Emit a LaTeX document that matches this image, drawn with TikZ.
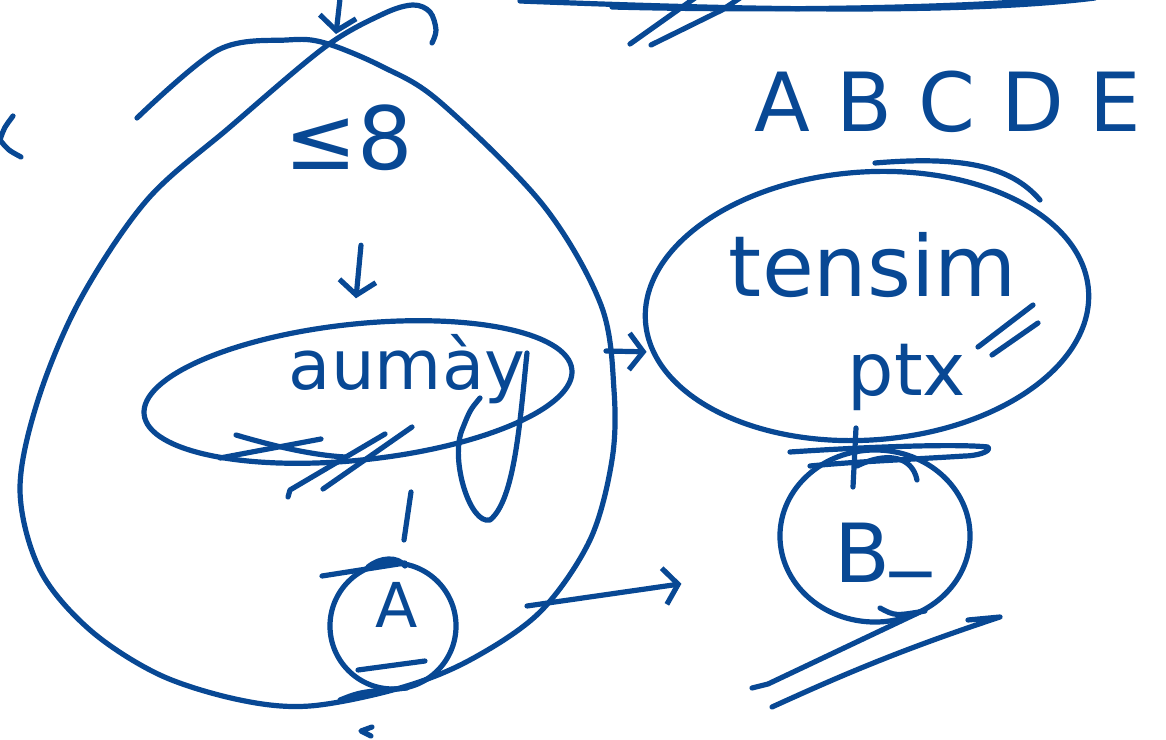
\documentclass[tikz,border=0pt]{standalone}
\usepackage{fontspec}
\setmainfont{DejaVu Sans}
\usepackage{xcolor}
\usepackage{tikz}
\usetikzlibrary{calc,arrows.meta,shapes.geometric}
\definecolor{tinta}{RGB}{8,72,148}

\begin{document}
\begin{tikzpicture}[x=0.025cm, y=-0.025cm, color=tinta, line width=3.7pt, line cap=round, line join=round,
    letra/.style={font=\fontsize{#1}{#1}\selectfont, anchor=base, inner sep=0pt},
    globo/.style={draw, ellipse, inner sep=0pt},
    flecha/.style={-{Straight Barb[length=10pt,width=26pt]}}]
  \useasboundingbox (0,0) rectangle (1166,740);
  \draw plot[smooth, tension=0.55] coordinates {(432,43) (436,30) (430,12) (413,5) (383,14) (325,47) (230,127)
    (147,200) (80,300) (38,400) (20,490) (40,570) (90,630) (160,675) (240,700) (310,706) (400,688) (470,660)
    (540,612) (590,540) (612,460) (614,390) (601,305) (543,205) (440,102) (383,67) (325,43) (287,40) (218,50) (137,118)};
  \coordinate (eggR) at (606,351);
  \coordinate (eggBR) at (527,606);
  \node[letra=62pt] (le8) at (349,170) {≤8};
  \node[globo, minimum width=10.75cm, minimum height=3.4cm, rotate=6] (aumay) at (358,392) {};
  \node[letra=49pt] (aumaytxt) at (407,390) {aumày};
  \node[draw, circle, minimum size=3.15cm, inner sep=0pt] (A) at (393,626) {};
  \node[letra=44pt] (Atxt) at (397,628) {A};
  \node[globo, minimum width=11.1cm, minimum height=6.7cm, rotate=4] (tensim) at (867,306) {};
  \node[letra=60pt] (tensimtxt) at (873,297) {tensim};
  \node[letra=52pt] (ptx) at (907,396) {ptx};
  \node[globo, minimum width=4.75cm, minimum height=4.3cm] (Bc) at (875,536) {};
  \node[letra=58pt] (Btxt) at (883,583) {B\raisebox{.3em}{\_}};
  \node[letra=58pt] (letras) at (948,132) {A B C D E};
  \draw[flecha] ($(le8)+(12,107)$) -- ($(le8)+(7,160)$);
  \draw ($(A)+(18,-134)$) -- ($(A)+(11,-86)$);
  \draw[flecha, shorten >=3pt] (eggR) -- (tensim.188);
  \draw[flecha, shorten >=2.6cm] (eggBR) -- (Bc.200);
  \draw[flecha] (341,-10) -- (336,34);
  \draw (520,1) .. controls (700,8) and (950,16) .. (1095,-2);
  \draw (612,7) .. controls (800,12) and (1000,6) .. (1060,-2);
  \draw (630,44) -- (685,5) -- (695,-2);
  \draw (651,45) -- (722,10) -- (740,-2);
  \draw (13,116) .. controls (4,128) .. (0,140) .. controls (8,150) .. (21,157);
  \draw (236,435) .. controls (270,445) and (310,455) .. (345,457);
  \draw (220,458) -- (321,439);
  \draw (288,497) -- (290,490) -- (385,434);
  \draw (323,489) -- (412,427);
  \draw (527,353) .. controls (520,420) and (515,500) .. (490,520) .. controls (470,525) and (450,460) .. (462,430)
    .. controls (470,410) .. (480,398);
  \draw (322,576) -- (405,563);
  \draw (368,567) .. controls (380,557) and (398,556) .. (405,566);
  \draw (358,670) -- (425,661);
  \draw (340,700) .. controls (360,692) .. (407,688);
  \draw (372,727) -- (361,731) -- (371,736);
  \draw (875,163) .. controls (960,156) and (1010,165) .. (1040,200);
  \draw (978,347) -- (1033,305);
  \draw (992,355) -- (1038,323);
  \draw (790,452) .. controls (880,446) and (960,444) .. (988,447) .. controls (992,452) and (975,456) .. (965,456)
    .. controls (900,460) and (850,462) .. (810,466);
  \draw (856,428) -- (853,487);
  \draw (857,466) .. controls (885,452) and (912,455) .. (917,480);
  \draw (752,688) -- (768,684) -- (920,612);
  \draw (880,608) .. controls (895,616) .. (925,611);
  \draw (772,707) .. controls (840,676) and (900,650) .. (1000,617) -- (968,620);
\end{tikzpicture}
\end{document}
